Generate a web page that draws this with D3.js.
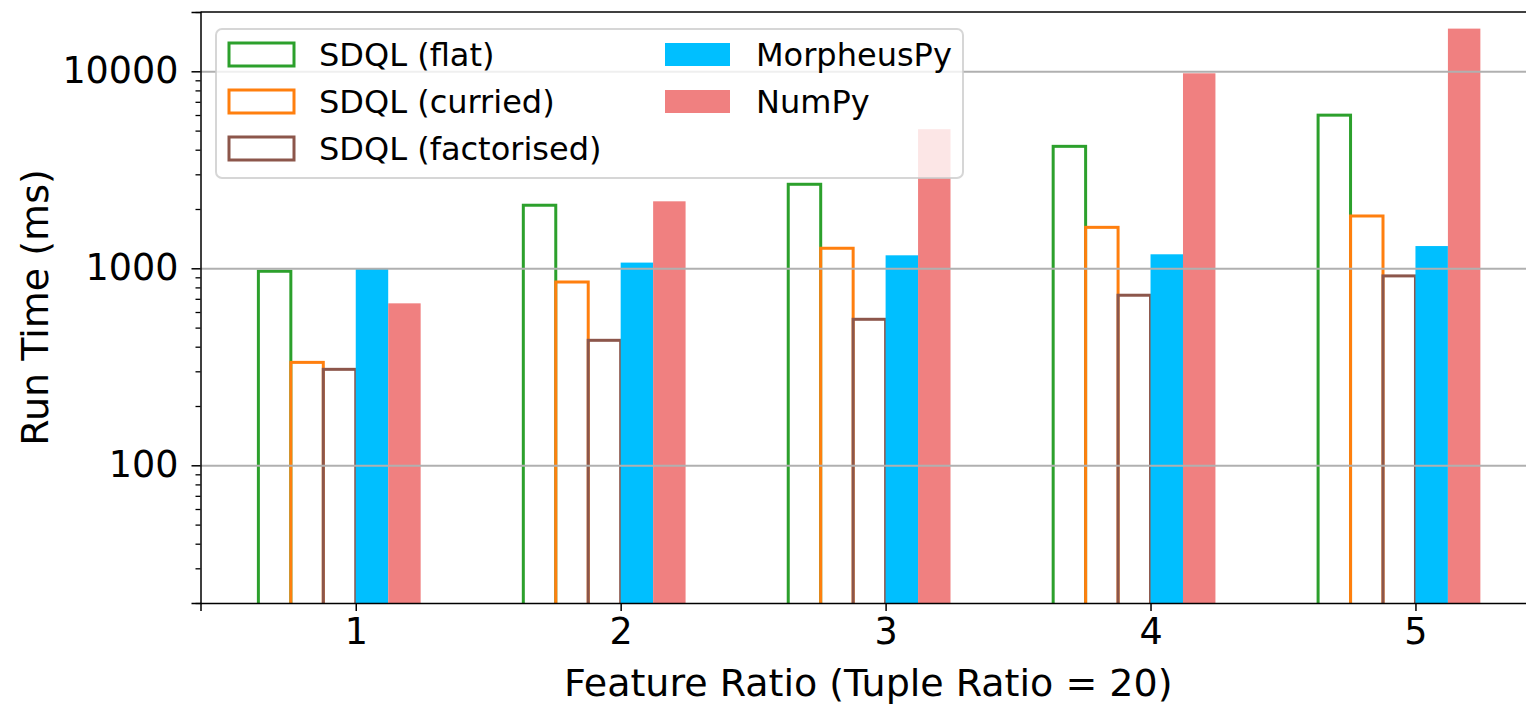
<!DOCTYPE html>
<html>
<head>
<meta charset="utf-8">
<script src="https://cdn.jsdelivr.net/npm/d3@7"></script>
<style>
    body { margin: 0; background: #fff; }
    svg { display: block; font-family: "DejaVu Sans", sans-serif; }
</style>
</head>
<body>
<div id="chart"></div>
<script>
// Data (run time in ms, log scale)
const featureRatios = [1, 2, 3, 4, 5];
const sdqlFlat = [966, 2090, 2670, 4160, 5990];
const sdqlCurried = [333, 852, 1264, 1614, 1843];
const sdqlFactorised = [307, 431, 551, 730, 915];
const morpheusPy = [995, 1069, 1164, 1178, 1297];
const numPy = [664, 2188, 5082, 9770, 16470];

const seriesNames = ["SDQL (flat)", "SDQL (curried)", "SDQL (factorised)", "MorpheusPy", "NumPy"];
const yTickValues = [100, 1000, 10000];
const yTickLabels = ["100", "1000", "10000"];
const xLabel = "Feature Ratio (Tuple Ratio = 20)";
const yLabel = "Run Time (ms)";

const W = 1526, H = 704;
const margin = { top: 12, right: -10, bottom: 101, left: 200.5 };
const innerW = W - margin.left - margin.right;
const innerH = H - margin.top - margin.bottom;

const series = [
    { name: seriesNames[0], values: sdqlFlat, color: "#2ca02c", hollow: true, offset: -3 },
    { name: seriesNames[1], values: sdqlCurried, color: "#ff7f0e", hollow: true, offset: -2 },
    { name: seriesNames[2], values: sdqlFactorised, color: "#8c564b", hollow: true, offset: -1 },
    { name: seriesNames[3], values: morpheusPy, color: "#00bfff", hollow: false, offset: 0 },
    { name: seriesNames[4], values: numPy, color: "#f08080", hollow: false, offset: 1 }
];
const barW = 0.1225;

const svg = d3.select("#chart").append("svg")
    .attr("width", W).attr("height", H);
const g = svg.append("g").attr("transform", `translate(${margin.left},${margin.top})`);

const x = d3.scaleLinear().domain([0.414, 5.455]).range([0, innerW]);
const y = d3.scaleLog().domain([20, 20000]).range([innerH, 0]);

g.append("clipPath").attr("id", "plot-clip")
    .append("rect").attr("width", innerW).attr("height", innerH);

// bars
const bars = g.append("g").attr("clip-path", "url(#plot-clip)");
series.forEach(s => {
    const sel = bars.append("g").selectAll("rect")
        .data(featureRatios.map((c, i) => ({ c, v: s.values[i] })))
        .enter().append("rect")
        .attr("x", d => x(d.c + s.offset * barW))
        .attr("width", d => x(d.c + (s.offset + 1) * barW) - x(d.c + s.offset * barW))
        .attr("y", d => y(d.v))
        .attr("height", d => innerH + 10 - y(d.v));
    if (s.hollow) {
        sel.attr("fill", "none").attr("stroke", s.color).attr("stroke-width", 3);
    } else {
        sel.attr("fill", s.color);
    }
});

// grid on top of bars
g.append("g")
    .call(d3.axisLeft(y).tickValues(yTickValues).tickSize(-innerW).tickFormat(""))
    .call(a => a.select(".domain").remove())
    .call(a => a.selectAll("line").attr("stroke", "#b0b0b0").attr("stroke-width", 2));

// y axis
const yAxis = g.append("g")
    .call(d3.axisLeft(y).tickValues(yTickValues).tickSize(9).tickPadding(13)
        .tickFormat((d, i) => yTickLabels[i]));
yAxis.selectAll("text").attr("font-size", 36.5).attr("fill", "#000").attr("font-family", "DejaVu Sans");
yAxis.selectAll("line").attr("stroke", "#000").attr("stroke-width", 1.5);
yAxis.select(".domain").attr("stroke", "#000").attr("stroke-width", 1.5);

const minorTicks = y.ticks().filter(t => !yTickValues.includes(t));
g.append("g")
    .call(d3.axisLeft(y).tickValues(minorTicks).tickSize(5).tickFormat(""))
    .call(a => a.select(".domain").remove())
    .call(a => a.selectAll("line").attr("stroke", "#000").attr("stroke-width", 1.3));

// x axis
const xAxis = g.append("g").attr("transform", `translate(0,${innerH})`)
    .call(d3.axisBottom(x).tickValues(featureRatios).tickSize(8).tickPadding(7).tickFormat(d3.format("d")));
xAxis.selectAll("text").attr("font-size", 36.5).attr("fill", "#000").attr("font-family", "DejaVu Sans");
xAxis.selectAll("line").attr("stroke", "#000").attr("stroke-width", 1.5);
xAxis.select(".domain").attr("stroke", "#000").attr("stroke-width", 1.5);

// top spine
g.append("line").attr("x1", 0).attr("x2", innerW).attr("y1", 0).attr("y2", 0)
    .attr("stroke", "#000").attr("stroke-width", 1.5);

// axis labels
svg.append("text")
    .attr("x", margin.left + innerW / 2).attr("y", 696)
    .attr("text-anchor", "middle").attr("font-size", 38).text(xLabel);
svg.append("text")
    .attr("transform", `translate(48,${margin.top + innerH / 2}) rotate(-90)`)
    .attr("text-anchor", "middle").attr("font-size", 38).text(yLabel);

// legend
const legend = svg.append("g");
legend.append("rect")
    .attr("x", 216).attr("y", 29).attr("width", 747).attr("height", 149)
    .attr("rx", 6)
    .attr("fill", "#fff").attr("fill-opacity", 0.8)
    .attr("stroke", "#cccccc").attr("stroke-opacity", 0.8).attr("stroke-width", 2);
const legendPos = [
    { px: 229, tx: 319, cy: 54.5 },
    { px: 229, tx: 319, cy: 101.5 },
    { px: 229, tx: 319, cy: 148.5 },
    { px: 665, tx: 756, cy: 54.5 },
    { px: 665, tx: 756, cy: 101.5 }
];
series.forEach((s, i) => {
    const p = legendPos[i];
    const r = legend.append("rect")
        .attr("x", p.px).attr("y", p.cy - 11.5).attr("width", 65).attr("height", 23);
    if (s.hollow) {
        r.attr("fill", "none").attr("stroke", s.color).attr("stroke-width", 3);
    } else {
        r.attr("fill", s.color);
    }
    legend.append("text")
        .attr("x", p.tx).attr("y", p.cy).attr("dy", "0.36em")
        .attr("font-size", 32).text(s.name);
});
</script>
</body>
</html>
